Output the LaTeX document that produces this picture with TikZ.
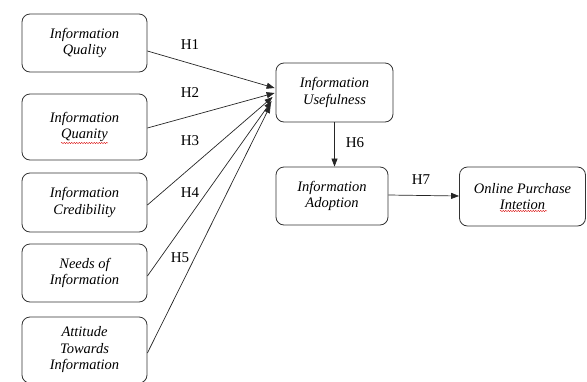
\documentclass[tikz,border=0pt]{standalone}
\usepackage{fontspec}
\setmainfont{Liberation Serif}
\usetikzlibrary{arrows.meta,decorations.pathmorphing}
\tikzset{
  box/.style={draw=black!80, line width=0.8pt, rounded corners=8pt, align=center,
    font=\fontsize{14.5}{16.5}\selectfont\itshape, inner sep=0pt},
  arr/.style={draw=black!85, line width=0.7pt, -{Triangle[length=8pt,width=6pt]}},
  hlab/.style={font=\fontsize{15}{17}\selectfont, inner sep=0pt},
  squig/.style={draw=red!85!black, line width=0.4pt,
    decorate, decoration={snake, amplitude=0.6pt, segment length=2.5pt}}
}
\begin{document}
\begin{tikzpicture}[x=1pt,y=-1pt]
\useasboundingbox (0,0) rectangle (587,381);
\node[box, minimum width=125pt, minimum height=58pt] (b1) at (84.5,43) {Information\\Quality};
\node[box, minimum width=125pt, minimum height=66pt] (b2) at (84.5,127) {Information\\Quanity};
\node[box, minimum width=125pt, minimum height=59pt] (b3) at (84.5,202.5) {Information\\Credibility};
\node[box, minimum width=125pt, minimum height=58pt] (b4) at (84.5,273) {Needs of\\Information};
\node[box, minimum width=125pt, minimum height=66pt] (b5) at (84.5,350) {Attitude\\Towards\\Information};
\node[box, minimum width=117pt, minimum height=59pt] (use) at (334.5,92.5) {Information\\Usefulness};
\node[box, minimum width=112pt, minimum height=58pt] (adopt) at (332,196) {Information\\Adoption};
\node[box, minimum width=126pt, minimum height=59pt] (buy) at (522.5,196.5) {Online Purchase\\Intetion};

\draw[arr] ([yshift=-8pt]b1.east) -- ([xshift=-1pt,yshift=4.5pt]use.west);
\draw[arr] ([yshift=-1pt]b2.east) -- ([xshift=-1pt,yshift=-0.5pt]use.west);
\draw[arr] ([yshift=-2.5pt]b3.east) -- ([xshift=-3pt,yshift=-4.5pt]use.west);
\draw[arr] ([yshift=-3pt]b4.east) -- ([xshift=-4pt,yshift=-8.5pt]use.west);
\draw[arr] ([yshift=-3pt]b5.east) -- ([xshift=-5pt,yshift=-12.5pt]use.west);
\draw[arr] (use.south) -- (use.south |- adopt.north);
\draw[arr] ([yshift=1pt]adopt.east) -- ([yshift=0.5pt]buy.west);

\node[hlab] (h1) at (190,45) {H1};
\node[hlab] (h2) at (190,93) {H2};
\node[hlab] (h3) at (190,141) {H3};
\node[hlab] (h4) at (190,193) {H4};
\node[hlab] (h5) at (180,258) {H5};
\node[hlab] (h6) at (355,143) {H6};
\node[hlab] (h7) at (421,180) {H7};

\draw[squig] (61,143) -- (108,143);
\draw[squig] (500,211) -- (547,211);
\end{tikzpicture}
\end{document}
